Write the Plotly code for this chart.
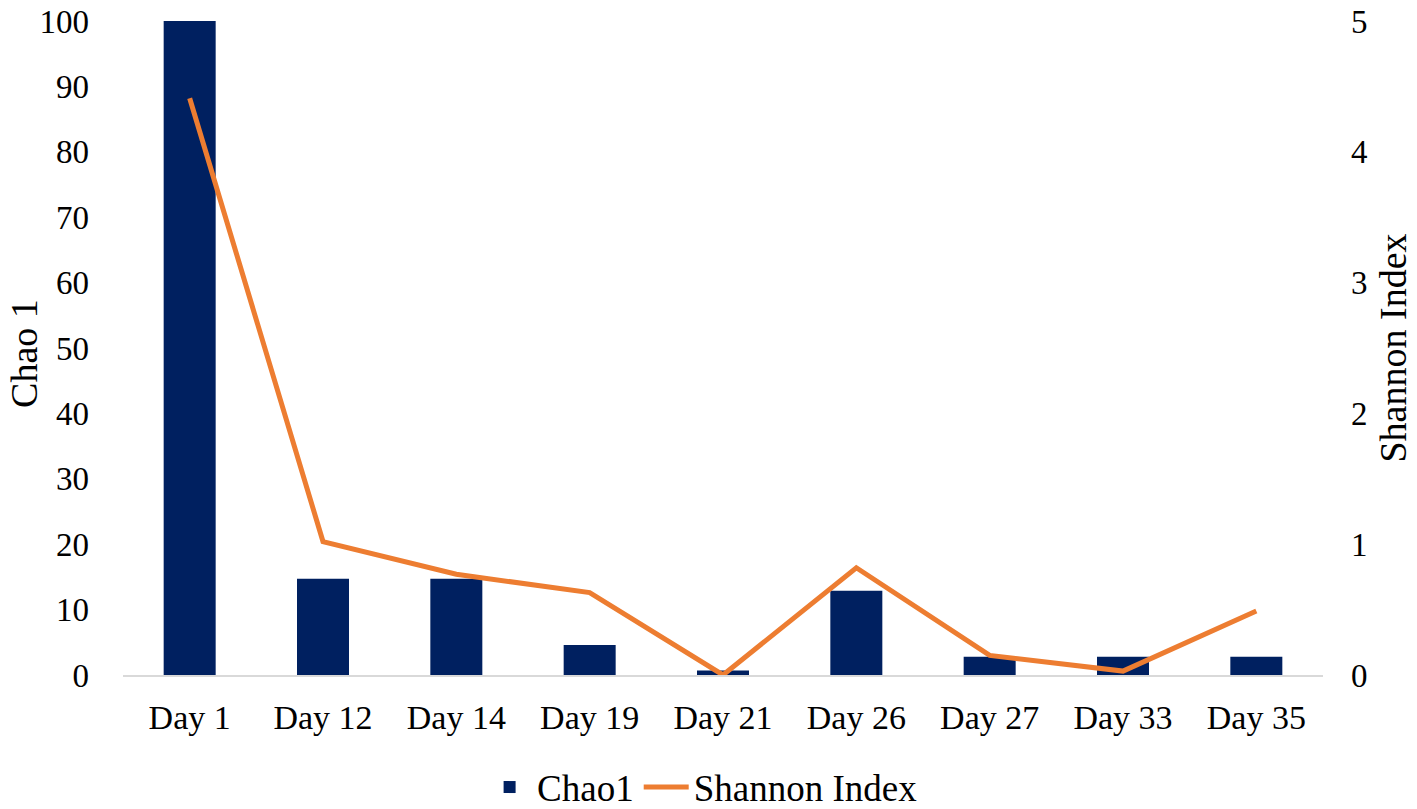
import plotly.graph_objects as go

days = ["Day 1", "Day 12", "Day 14", "Day 19", "Day 21", "Day 26", "Day 27", "Day 33", "Day 35"]
chao1 = [100, 14.7, 14.7, 4.6, 0.7, 12.9, 2.8, 2.8, 2.8]
shannon = [4.41, 1.02, 0.77, 0.63, 0.0, 0.82, 0.15, 0.03, 0.49]
left_ticks = list(range(0, 101, 10))
right_ticks = [0, 1, 2, 3, 4, 5]

FONT = "Liberation Serif, Times New Roman, serif"

fig = go.Figure()
fig.add_trace(go.Bar(
    x=days, y=chao1, name="Chao1",
    marker=dict(color="#002060", line=dict(width=0)),
    width=0.39, yaxis="y",
))
fig.add_trace(go.Scatter(
    x=days, y=shannon, name="Shannon Index", mode="lines",
    line=dict(color="#ED7D31", width=5), yaxis="y2",
))

# page body has an 8px margin, so the figure is sized to fit the window
fig.update_layout(
    width=1409, height=801,
    margin=dict(l=115, r=94, t=13, b=134, autoexpand=False),
    paper_bgcolor="white", plot_bgcolor="white",
    font=dict(family=FONT, size=34, color="black"),
    showlegend=True,
    legend=dict(orientation="h", x=0.483, y=-0.172, xanchor="center", yanchor="middle",
                font=dict(size=37), traceorder="normal", itemwidth=45,
                tracegroupgap=0),
    xaxis=dict(
        type="category", showgrid=False, zeroline=False,
        showline=True, linecolor="#D9D9D9", linewidth=1.5,
        ticks="", ticklabelstandoff=11, tickfont=dict(size=34),
    ),
    yaxis=dict(
        range=[0, 100], tickvals=left_ticks, showgrid=False, zeroline=False,
        showline=False, ticks="", ticklabelstandoff=33, tickfont=dict(size=33),
        ticklabeloverflow="allow",
    ),
    yaxis2=dict(
        range=[0, 5], tickvals=right_ticks, overlaying="y", side="right",
        showgrid=False, zeroline=False, showline=False, ticks="",
        ticklabelstandoff=27, tickfont=dict(size=33),
        ticklabeloverflow="allow",
        title=dict(text="Shannon Index", font=dict(size=38), standoff=12),
    ),
    bargap=0.61,
    annotations=[dict(
        text="Chao 1", xref="paper", yref="paper", x=-0.0825, y=0.491,
        textangle=-90, showarrow=False, xanchor="center", yanchor="middle",
        font=dict(size=38, family=FONT, color="black"),
    )],
)

fig.write_html("out.html")
